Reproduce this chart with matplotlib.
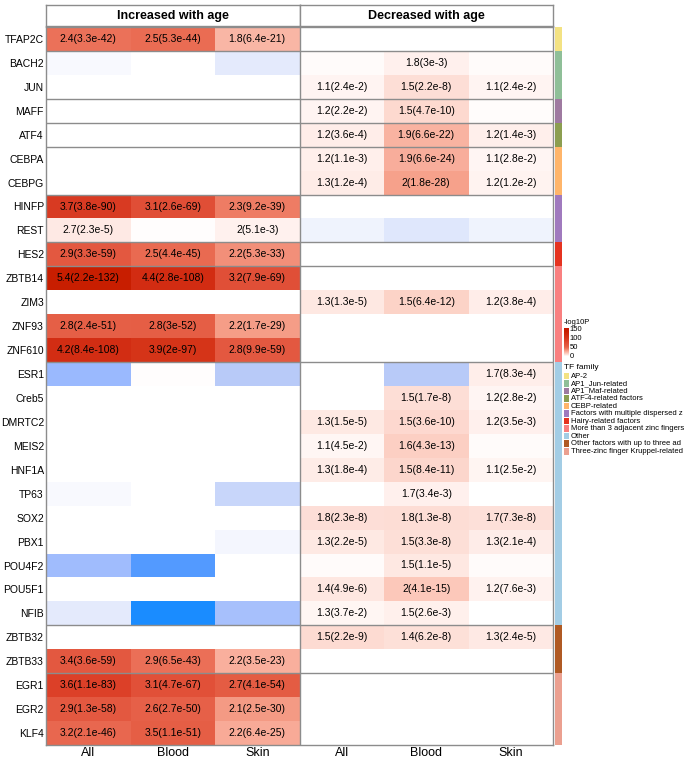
import numpy as np
import matplotlib
matplotlib.use('Agg')
import matplotlib.pyplot as plt
from matplotlib.colors import LinearSegmentedColormap, TwoSlopeNorm, ListedColormap
from matplotlib.patches import Rectangle

plt.rcParams['font.family'] = ['Liberation Sans', 'DejaVu Sans']

# ---------------- data ----------------
tfs = ["TFAP2C", "BACH2", "JUN", "MAFF", "ATF4", "CEBPA", "CEBPG", "HINFP", "REST",
       "HES2", "ZBTB14", "ZIM3", "ZNF93", "ZNF610", "ESR1", "Creb5", "DMRTC2", "MEIS2",
       "HNF1A", "TP63", "SOX2", "PBX1", "POU4F2", "POU5F1", "NFIB", "ZBTB32", "ZBTB33",
       "EGR1", "EGR2", "KLF4"]

family_names = ["AP-2", "AP1_Jun-related", "AP1_Maf-related", "ATF-4-related factors",
                "CEBP-related", "Factors with multiple dispersed z", "Hairy-related factors",
                "More than 3 adjacent zinc fingers", "Other", "Other factors with up to three ad",
                "Three-zinc finger Kruppel-related"]
family_colors = ["#F3E283", "#8FBF98", "#9E7AA0", "#8C9E50", "#FFB56A", "#A07ABE",
                 "#E53320", "#F98080", "#A3CDE5", "#B05A24", "#EBA090"]
row_family = [0, 1, 1, 2, 3, 4, 4, 5, 5, 6, 7, 7, 7, 7,
              8, 8, 8, 8, 8, 8, 8, 8, 8, 8, 8, 9, 9, 10, 10, 10]

columns = ["All", "Blood", "Skin", "All", "Blood", "Skin"]
panel_titles = ["Increased with age", "Decreased with age"]

labels_inc = [
    ["2.4(3.3e-42)", "2.5(5.3e-44)", "1.8(6.4e-21)"],
    ["", "", ""],
    ["", "", ""],
    ["", "", ""],
    ["", "", ""],
    ["", "", ""],
    ["", "", ""],
    ["3.7(3.8e-90)", "3.1(2.6e-69)", "2.3(9.2e-39)"],
    ["2.7(2.3e-5)", "", "2(5.1e-3)"],
    ["2.9(3.3e-59)", "2.5(4.4e-45)", "2.2(5.3e-33)"],
    ["5.4(2.2e-132)", "4.4(2.8e-108)", "3.2(7.9e-69)"],
    ["", "", ""],
    ["2.8(2.4e-51)", "2.8(3e-52)", "2.2(1.7e-29)"],
    ["4.2(8.4e-108)", "3.9(2e-97)", "2.8(9.9e-59)"],
    ["", "", ""],
    ["", "", ""],
    ["", "", ""],
    ["", "", ""],
    ["", "", ""],
    ["", "", ""],
    ["", "", ""],
    ["", "", ""],
    ["", "", ""],
    ["", "", ""],
    ["", "", ""],
    ["", "", ""],
    ["3.4(3.6e-59)", "2.9(6.5e-43)", "2.2(3.5e-23)"],
    ["3.6(1.1e-83)", "3.1(4.7e-67)", "2.7(4.1e-54)"],
    ["2.9(1.3e-58)", "2.6(2.7e-50)", "2.1(2.5e-30)"],
    ["3.2(2.1e-46)", "3.5(1.1e-51)", "2.2(6.4e-25)"],
]

labels_dec = [
    ["", "", ""],
    ["", "1.8(3e-3)", ""],
    ["1.1(2.4e-2)", "1.5(2.2e-8)", "1.1(2.4e-2)"],
    ["1.2(2.2e-2)", "1.5(4.7e-10)", ""],
    ["1.2(3.6e-4)", "1.9(6.6e-22)", "1.2(1.4e-3)"],
    ["1.2(1.1e-3)", "1.9(6.6e-24)", "1.1(2.8e-2)"],
    ["1.3(1.2e-4)", "2(1.8e-28)", "1.2(1.2e-2)"],
    ["", "", ""],
    ["", "", ""],
    ["", "", ""],
    ["", "", ""],
    ["1.3(1.3e-5)", "1.5(6.4e-12)", "1.2(3.8e-4)"],
    ["", "", ""],
    ["", "", ""],
    ["", "", "1.7(8.3e-4)"],
    ["", "1.5(1.7e-8)", "1.2(2.8e-2)"],
    ["1.3(1.5e-5)", "1.5(3.6e-10)", "1.2(3.5e-3)"],
    ["1.1(4.5e-2)", "1.6(4.3e-13)", ""],
    ["1.3(1.8e-4)", "1.5(8.4e-11)", "1.1(2.5e-2)"],
    ["", "1.7(3.4e-3)", ""],
    ["1.8(2.3e-8)", "1.8(1.3e-8)", "1.7(7.3e-8)"],
    ["1.3(2.2e-5)", "1.5(3.3e-8)", "1.3(2.1e-4)"],
    ["", "1.5(1.1e-5)", ""],
    ["1.4(4.9e-6)", "2(4.1e-15)", "1.2(7.6e-3)"],
    ["1.3(3.7e-2)", "1.5(2.6e-3)", ""],
    ["1.5(2.2e-9)", "1.4(6.2e-8)", "1.3(2.4e-5)"],
    ["", "", ""],
    ["", "", ""],
    ["", "", ""],
    ["", "", ""],
]

# estimated scores of unlabeled cells (negative = depleted, blue)
blank_inc = [
    [0, 0, 0], [-0.2, 0, -1.0], [0, 0, 0], [0, 0, 0], [0, 0, 0], [0, 0, 0], [0, 0, 0],
    [0, 0, 0], [0, 0.3, 0], [0, 0, 0], [0, 0, 0], [0, 0, 0], [0, 0, 0], [0, 0, 0],
    [-4.6, 0.3, -3.0], [0, 0, 0], [0, 0, 0], [0, 0, 0], [0, 0, 0], [-0.2, 0, -2.2],
    [0, 0, 0], [0, 0, -0.3], [-4.3, -7.6, 0], [0, 0, 0], [-1.0, -10.0, -3.9],
    [0, 0, 0], [0, 0, 0], [0, 0, 0], [0, 0, 0], [0, 0, 0],
]
blank_dec = [
    [0, 0, 0], [0.6, 0, 0.6], [0, 0, 0], [0, 0, 0.5], [0, 0, 0], [0, 0, 0], [0, 0, 0],
    [0, 0, 0], [-0.5, -1.2, -0.5], [0, 0, 0], [0, 0, 0], [0, 0, 0], [0, 0, 0], [0, 0, 0],
    [0, -3.0, 0], [0, 0, 0], [0, 0, 0], [0, 0, 0.6], [0, 0, 0], [0, 0, 0],
    [0, 0, 0], [0, 0, 0], [0.6, 0, 0.6], [0, 0, 0], [0, 0, 0],
    [0, 0, 0], [0, 0, 0], [0, 0, 0], [0, 0, 0], [0, 0, 0],
]

legend_ticks = [0, 50, 100, 150]

# ---------------- build matrices ----------------
labels = [a + b for a, b in zip(labels_inc, labels_dec)]
blanks = [a + b for a, b in zip(blank_inc, blank_dec)]
nrow, ncol = len(tfs), len(columns)
score = np.zeros((nrow, ncol))
for i in range(nrow):
    for j in range(ncol):
        lab = labels[i][j]
        if lab:
            p = float(lab.split("(")[1].rstrip(")"))
            score[i, j] = -np.log10(p)
        else:
            score[i, j] = blanks[i][j]

vmin, vmax = -10.0, 150.0
neg_anchor = [(-10, "#1A8CFF"), (-7.5, "#559BFF"), (-4.5, "#9CBAFE"), (-3, "#B8CAF8"),
              (-2.2, "#C8D6FA"), (-1, "#E4EAFC"), (-0.3, "#F4F6FE")]
pos_anchor = [(0, "#FFFFFF"), (2, "#FFF2EF"), (5, "#FEE8E2"), (8, "#FDDDD5"), (12, "#FCD0C4"),
              (15, "#FCC6B8"), (21, "#F9B4A2"), (24, "#F8AA98"), (28, "#F6A08A"),
              (32, "#F2907A"), (38, "#EE7C64"), (43, "#EA6C54"), (51, "#E55E45"),
              (58, "#E35840"), (69, "#E04E36"), (83, "#DC4028"), (90, "#D83A22"),
              (97, "#D53418"), (108, "#D22C12"), (132, "#C81E00"), (150, "#C41800")]
stops = []
for v, c in neg_anchor:
    stops.append((0.5 * (v - vmin) / (0 - vmin), c))
for v, c in pos_anchor:
    stops.append((0.5 + 0.5 * v / vmax, c))
cmap = LinearSegmentedColormap.from_list("lp", stops, N=8192)
norm = TwoSlopeNorm(vmin=vmin, vcenter=0, vmax=vmax)

# ---------------- figure ----------------
W, H = 685, 758
fig = plt.figure(figsize=(W / 100, H / 100), dpi=100)
fig.patch.set_facecolor("white")

def fx(px):
    return px / W

def fy(py):
    return 1 - py / H

L, R, T, B = 46, 553, 27, 745
border = "#8C8C8C"
ax = fig.add_axes([fx(L), fy(B), (R - L) / W, (B - T) / H])
ax.pcolormesh(np.arange(ncol + 1), np.arange(nrow + 1), score, cmap=cmap, norm=norm,
              shading="flat", edgecolors="none", antialiased=False)
for i in range(nrow):
    for j in range(ncol):
        if labels[i][j]:
            ax.text(j + 0.5, i + 0.5, labels[i][j], ha="center", va="center",
                    fontsize=7.5, color="black")

bounds = [i for i in range(1, nrow) if row_family[i] != row_family[i - 1]]
ax.hlines(bounds, 0, ncol, color=border, lw=1.0)
ax.vlines([3], 0, nrow, color=border, lw=1.0)
for s in ax.spines.values():
    s.set_color(border)
    s.set_linewidth(1.0)
ax.set_xlim(0, ncol)
ax.set_ylim(nrow, 0)
ax.set_yticks(np.arange(nrow) + 0.5)
ax.set_yticklabels(tfs, fontsize=7.5)
ax.set_xticks(np.arange(ncol) + 0.5)
ax.set_xticklabels(columns, fontsize=9)
ax.tick_params(length=0, pad=1.5)

# panel headers
half = (R - L) / 2
for k, title in enumerate(panel_titles):
    hax = fig.add_axes([fx(L + k * half), fy(26), half / W, 21 / H])
    hax.set_xticks([])
    hax.set_yticks([])
    for s in hax.spines.values():
        s.set_color(border)
        s.set_linewidth(1.0)
    hax.text(0.5, 0.5, title, ha="center", va="center", fontsize=9, fontweight="bold",
             transform=hax.transAxes)

# family annotation bar
aax = fig.add_axes([fx(555), fy(B), 7 / W, (B - T) / H])
aax.pcolormesh(np.arange(2), np.arange(nrow + 1), np.array(row_family).reshape(-1, 1),
               cmap=ListedColormap(family_colors), vmin=-0.5,
               vmax=len(family_colors) - 0.5, shading="flat", antialiased=False)
aax.set_ylim(nrow, 0)
aax.axis("off")

# color legend
fig.text(fx(564), fy(322.5), "-log10P", fontsize=5.5, va="center", ha="left")
bar_top, bar_bot = 328, 356
cax = fig.add_axes([fx(564), fy(bar_bot), 4.5 / W, (bar_bot - bar_top) / H])
grad = np.linspace(vmax, 0, 100).reshape(-1, 1)
cax.imshow(grad, cmap=cmap, norm=norm, aspect="auto", extent=(0, 1, 0, vmax))
cax.axis("off")
for t in legend_ticks:
    ypx = bar_bot - (bar_bot - bar_top) * t / vmax
    fig.text(fx(569.5), fy(ypx + 1), str(t), fontsize=5.5, va="center", ha="left")

# family legend
fig.text(fx(564), fy(368), "TF family", fontsize=6, va="center", ha="left")
for k, (name, col) in enumerate(zip(family_names, family_colors)):
    yc = 376 + 7.55 * k
    fig.add_artist(Rectangle((fx(564), fy(yc + 3)), 5 / W, 6.5 / H,
                             transform=fig.transFigure, facecolor=col, edgecolor="none"))
    fig.text(fx(571), fy(yc), name, fontsize=5.5, va="center", ha="left")

fig.savefig("out.png", dpi=100, facecolor="white")
